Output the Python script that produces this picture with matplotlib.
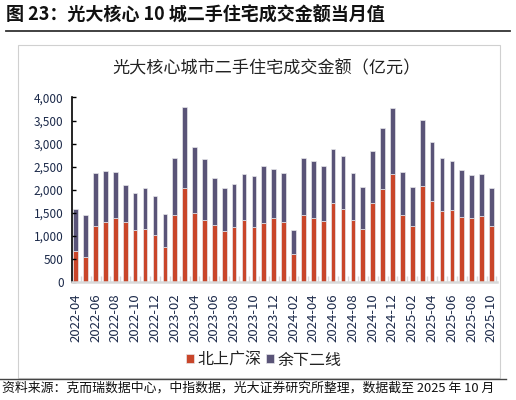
import matplotlib
matplotlib.use("Agg")
import matplotlib.pyplot as plt
from matplotlib.lines import Line2D
from matplotlib.patches import Rectangle
from matplotlib.ticker import FuncFormatter, FixedLocator

plt.rcParams['font.family'] = ['Noto Sans CJK SC', 'DejaVu Sans']

months = [f"{y}-{m:02d}" for y, m in
          [(2022, m) for m in range(4, 13)] + [(2023, m) for m in range(1, 13)] +
          [(2024, m) for m in range(1, 13)] + [(2025, m) for m in range(1, 11)]]

tier1 = [680, 548, 1211, 1305, 1391, 1305, 1132, 1154, 1009,
         750, 1456, 2040, 1500, 1355, 1233, 1103, 1182, 1355, 1182, 1276, 1384,
         1305, 598, 1449, 1384, 1327, 1709, 1579, 1355, 1154, 1709, 2012, 2336,
         1449, 1204, 2084, 1752, 1550, 1557, 1406, 1377, 1435, 1204]
others = [900, 908, 1154, 1110, 1003, 800, 807, 879, 851,
          735, 1233, 1760, 1434, 1305, 1031, 930, 952, 981, 1111, 1233, 1075,
          1053, 527, 1233, 1233, 1182, 1182, 1161, 1003, 901, 1125, 1333, 1428,
          938, 851, 1434, 1291, 1132, 1060, 1031, 937, 901, 829]

series_names = ['北上广深', '余下二线']
colors = ['#C9462A', '#5A5478']
yticks = [0, 500, 1000, 1500, 2000, 2500, 3000, 3500, 4000]

fig = plt.figure(figsize=(5.16, 4.0), dpi=100)
W, H = 516, 400

# header
fig.text(6 / W, 1 - 15 / H, '图 23：光大核心 10 城二手住宅成交金额当月值', fontsize=13,
         fontweight='bold', ha='left', va='center', color='#111111')
fig.add_artist(Line2D([6 / W, 510 / W], [1 - 31 / H, 1 - 31 / H], color='#333333', lw=1.3))
# chart box
fig.add_artist(Rectangle((18 / W, 1 - 378 / H), (500 - 18) / W, (378 - 45) / H,
                         fill=False, edgecolor='#d0d0d0', lw=0.8))
fig.add_artist(Line2D([0 / W, 506 / W], [1 - 379 / H, 1 - 379 / H], color='#444444', lw=1.0))
fig.text(266 / W, 1 - 68 / H, '光大核心城市二手住宅成交金额（亿元）', fontsize=12.3,
         ha='center', va='center', color='#222222')
fig.text(2 / W, 1 - 388 / H, '资料来源：克而瑞数据中心，中指数据，光大证券研究所整理，数据截至 2025 年 10 月',
         fontsize=9.3, ha='left', va='center', color='#111111')

ax = fig.add_axes([72 / W, 1 - 282 / H, (497 - 72) / W, (282 - 97.5) / H])
x = list(range(len(months)))
ax.bar(x, tier1, width=0.47, color=colors[0], edgecolor='#e6e6ea', linewidth=0.5,
       label=series_names[0])
ax.bar(x, others, width=0.47, bottom=tier1, color=colors[1], edgecolor='#e6e6ea',
       linewidth=0.5, label=series_names[1])

ax.set_xlim(-0.38, 42.56)
ax.set_ylim(0, 4000)
ax.set_yticks(yticks)
ax.yaxis.set_major_formatter(FuncFormatter(lambda v, p: f"{int(v):,}"))
ax.tick_params(axis='y', direction='in', length=3, width=1, color='black',
               labelsize=8.5, labelcolor='#1c2a4a', pad=6)

ax.set_xticks(x[::2])
ax.set_xticklabels(months[::2], rotation=90, fontsize=9.5, color='#1c2a4a')
ax.xaxis.set_minor_locator(FixedLocator([i + 0.5 for i in range(-1, len(months))]))
ax.tick_params(axis='x', which='major', length=0, pad=8)
ax.tick_params(axis='x', which='minor', direction='in', length=4, width=1, color='#d9d9d9')

for s in ['top', 'right']:
    ax.spines[s].set_visible(False)
ax.spines['left'].set_color('black')
ax.spines['left'].set_linewidth(1.2)
ax.spines['bottom'].set_color('#d9d9d9')
ax.spines['bottom'].set_linewidth(1.8)

fig.legend(loc='center', bbox_to_anchor=(264 / W, 1 - 360 / H), ncol=2, frameon=False,
           fontsize=11.5, handlelength=0.5, handleheight=0.5, handletextpad=0.2,
           columnspacing=0.3, borderpad=0, labelcolor='#222222')

fig.savefig('out.png', dpi=100)
